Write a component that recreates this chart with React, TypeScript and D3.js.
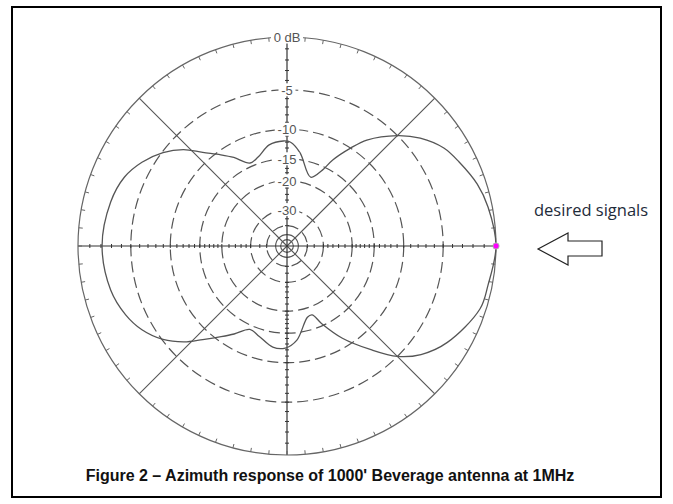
import * as d3 from 'd3';

// azimuth (deg, 0 = toward the desired signals, counter-clockwise) and gain in dB
const azimuth = [
  0, 11, 18, 26, 32, 39, 45, 53, 57, 62, 65, 71, 82, 88, 92, 100, 108, 114, 121, 126, 132, 137, 143, 150, 157, 166,
  180, 194, 203, 210, 217, 223, 228, 234, 239, 246, 253, 262, 269, 276, 286, 290, 294, 301, 309, 315, 321, 329, 342, 349,
];
const gainDb = [
  0, -0.35, -0.75, -1.5, -2.1, -3.4, -5.0, -7.8, -10.0, -13.1, -15.7, -18.1, -13.7, -12.0, -11.8, -12.2, -13.8, -14.3,
  -12.1, -10.6, -8.7, -6.7, -5.1, -3.8, -2.9, -2.4,
  -2.1, -2.4, -3.0, -3.8, -5.1, -6.8, -8.7, -10.7, -12.2, -14.2, -13.6, -12.3, -12.3, -13.6, -17.8, -18.0, -15.5, -11.4,
  -7.7, -5.0, -3.3, -1.9, -0.5, -0.35,
];

const ringDb = [-5, -10, -15, -20, -30, -40];
const innerRingDb = [-50, -60];
const labelDb = [-5, -10, -15, -20, -30];
const spokeDeg = [45, 135, 225, 315];

const width = 673;
const height = 504;
const cx = 287;
const cy = 246;
const R = 209;

// ARRL log scale: radius shrinks by 0.89 for every 2 dB
const arrl = (db: number) => Math.pow(0.89, -db / 2);
const rScale = d3.scaleLinear().domain([0, 1]).range([0, R]);
const aScale = d3.scaleLinear().domain([0, 360]).range([0, 2 * Math.PI]);
const r = (db: number) => rScale(arrl(db));
const px = (deg: number, rad: number) => cx + rad * Math.cos(aScale(deg));
const py = (deg: number, rad: number) => cy - rad * Math.sin(aScale(deg));

const gridColor = '#555';

const App = () => {
  const pts = azimuth.map((a, i) => [px(a, r(gainDb[i])), py(a, r(gainDb[i]))] as [number, number]);
  const pattern = d3.line().curve(d3.curveCatmullRomClosed.alpha(0.5))(pts) as string;

  const outerTicks = d3.range(0, 360, 5);
  const axisTicks = [...d3.range(-1, -21, -1), ...d3.range(-22, -31, 2 * -1), -35, -40];

  const arrowY = cy + 3;
  const arrowX = 538;
  const arrow = [
    [arrowX, arrowY],
    [arrowX + 30, arrowY - 16],
    [arrowX + 30, arrowY - 8],
    [arrowX + 64, arrowY - 8],
    [arrowX + 64, arrowY + 7],
    [arrowX + 30, arrowY + 7],
    [arrowX + 30, arrowY + 16],
  ];

  return (
    <div style={{ position: 'absolute', left: 0, top: 0 }}>
      <svg width={width} height={height} style={{ display: 'block', background: '#fff' }}>
        {/* frame */}
        <rect x={12} y={7} width={649} height={490} fill="none" stroke="#000" strokeWidth={2} />

        {/* dashed rings */}
        {ringDb.map((db) => (
          <circle key={db} cx={cx} cy={cy} r={r(db)} fill="none" stroke={gridColor} strokeWidth={1.2}
            strokeDasharray="11,5" />
        ))}
        {innerRingDb.map((db) => (
          <circle key={db} cx={cx} cy={cy} r={r(db)} fill="none" stroke={gridColor} strokeWidth={1.1} />
        ))}

        {/* diagonals */}
        {spokeDeg.map((a) => (
          <line key={a} x1={cx} y1={cy} x2={px(a, R)} y2={py(a, R)} stroke={gridColor} strokeWidth={1.1} />
        ))}

        {/* main axes with dB ticks */}
        <line x1={cx - R} y1={cy} x2={cx + R} y2={cy} stroke="#333" strokeWidth={1.2} />
        <line x1={cx} y1={cy - R} x2={cx} y2={cy + R} stroke="#333" strokeWidth={1.2} />
        {[0, 90, 180, 270].map((a) =>
          axisTicks.map((db) => {
            const rr = r(db);
            const x = px(a, rr);
            const y = py(a, rr);
            const horiz = a === 0 || a === 180;
            return (
              <line key={`${a}_${db}`} x1={horiz ? x : x - 2} y1={horiz ? y - 2 : y} x2={horiz ? x : x + 2}
                y2={horiz ? y + 2 : y} stroke="#333" strokeWidth={1} />
            );
          }),
        )}

        {/* outer circle with 5 degree ticks */}
        <circle cx={cx} cy={cy} r={R} fill="none" stroke="#666" strokeWidth={1.2} />
        {outerTicks.map((a) => (
          <line key={a} x1={px(a, R)} y1={py(a, R)} x2={px(a, R - 4)} y2={py(a, R - 4)} stroke="#666" strokeWidth={1} />
        ))}

        {/* pattern */}
        <path d={pattern} fill="none" stroke="#555" strokeWidth={1.3} />

        {/* ring labels */}
        {[0, ...labelDb].map((db) => {
          const t = db === 0 ? '0 dB' : `${db}`;
          const w = t.length * 7.5 + 2;
          const y = cy - r(db);
          return (
            <g key={db}>
              <rect x={cx - w / 2} y={y - 6.5} width={w} height={13} fill="#fff" />
              <text x={cx} y={y + 5} textAnchor="middle" fontFamily="Liberation Sans, Arial, sans-serif"
                fontSize={13} fill="#555">
                {t}
              </text>
            </g>
          );
        })}

        {/* desired direction marker */}
        <circle cx={px(0, R)} cy={cy} r={3.2} fill="#ff00ff" stroke="#9de89d" strokeWidth={0.8} />
        <text x={534} y={216} fontFamily="Open Sans, Noto Sans, sans-serif" fontSize={16.5} fill="#1e2b3a">
          desired signals
        </text>
        <polygon points={arrow.map((p) => p.join(',')).join(' ')} fill="#fff" stroke="#222" strokeWidth={1.2} />

        {/* caption */}
        <text x={330} y={481} textAnchor="middle" fontFamily="Liberation Sans, Arial, sans-serif" fontWeight="bold"
          fontSize={16} fill="#111">
          Figure 2 – Azimuth response of 1000' Beverage antenna at 1MHz
        </text>
      </svg>
    </div>
  );
};

export default App;
